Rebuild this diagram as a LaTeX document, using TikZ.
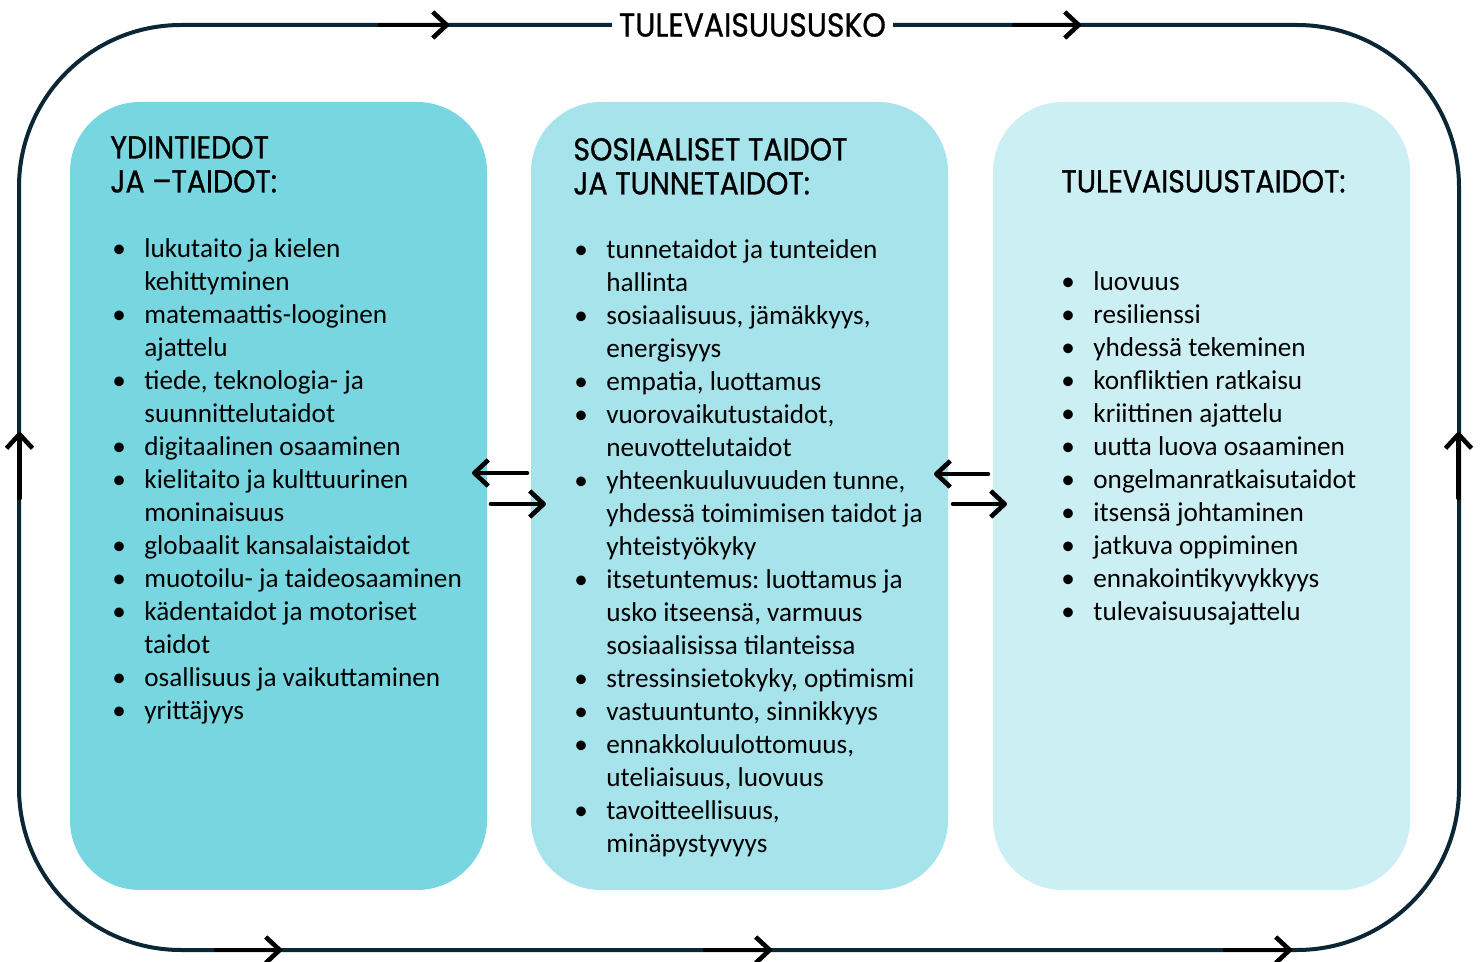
\documentclass[tikz,border=0pt]{standalone}
\usepackage{fontspec}
\setmainfont{Carlito}
\newfontfamily\headfont[FakeStretch=0.9,FakeBold=0.9]{Poppins}
\usetikzlibrary{arrows.meta}
\definecolor{boxA}{HTML}{78D6E0}
\definecolor{boxB}{HTML}{A6E3EB}
\definecolor{boxC}{HTML}{CCEFF4}
\definecolor{framecol}{HTML}{0B2635}
\newcommand\bul{\makebox[16pt][l]{\textbullet}}
\newcommand\ind{\hspace*{16pt}}
\frenchspacing
\begin{document}
\frenchspacing
\begin{tikzpicture}[x=0.5pt,y=-0.5pt,
  panel/.style={rounded corners=35pt, draw=none, inner sep=0pt, minimum width=208.5pt, minimum height=394pt},
  head/.style={anchor=north west, inner sep=0pt, align=left, font=\headfont\fontsize{15.8}{17}\selectfont},
  list/.style={anchor=north west, inner sep=0pt, align=left, font=\fontsize{13.6}{16.5}\selectfont},
  arr/.style={line width=2.3pt, line cap=round, -{Straight Barb[length=7pt,width=13pt,line join=round]}},
  titlenode/.style={fill=white, inner xsep=3.5pt, inner ysep=2pt, font=\headfont\fontsize{16.6}{18}\selectfont}
]
\useasboundingbox (0,0) rectangle (1480,962);
% outer frame
\draw[framecol, line width=2pt, rounded corners=81pt] (19,25) rectangle (1459,950);
\node[titlenode] (title) at (752.5,25) {TULEVAISUUSUSKO};
% frame arrows
\coordinate (ta1) at (380,25); \coordinate (ta2) at (449,25);
\coordinate (tb1) at (1014,25); \coordinate (tb2) at (1081,25);
\coordinate (ba1) at (216,950); \coordinate (ba2) at (282,950);
\coordinate (bb1) at (705,950); \coordinate (bb2) at (772,950);
\coordinate (bc1) at (1225,950); \coordinate (bc2) at (1292,950);
\coordinate (la1) at (19.5,498); \coordinate (la2) at (19.5,432);
\coordinate (ra1) at (1458.5,498); \coordinate (ra2) at (1458.5,432);
\foreach \a/\b in {ta1/ta2,tb1/tb2,ba1/ba2,bb1/bb2,bc1/bc2,la1/la2,ra1/ra2}
  \draw[arr] (\a) -- (\b);
% panels
\node[panel, fill=boxA] (p1) at (278.5,496) {};
\node[panel, fill=boxB] (p2) at (739.5,496) {};
\node[panel, fill=boxC] (p3) at (1201.5,496) {};
% arrows between panels
\coordinate (a1s) at (527,473); \coordinate (a1e) at (472,473);
\coordinate (a2s) at (491,504); \coordinate (a2e) at (546,504);
\coordinate (a3s) at (988,474); \coordinate (a3e) at (934,474);
\coordinate (a4s) at (953,504); \coordinate (a4e) at (1007,504);
\draw[arr] (a1s) -- (a1e);
\draw[arr] (a2s) -- (a2e);
\draw[arr] (a3s) -- (a3e);
\draw[arr] (a4s) -- (a4e);
% headings
\node[head] (h1) at (110,134.2) {\strut YDINTIEDOT\\JA –TAIDOT:};
\node[head] (h2) at (573,136.2) {\strut SOSIAALISET TAIDOT\\JA TUNNETAIDOT:};
\node[head] (h3) at (1061,168.2) {\strut TULEVAISUUSTAIDOT:};
% lists
\node[list] (l1) at (112,233.9) {\strut\bul lukutaito ja kielen\\
\ind kehittyminen\\
\bul matemaattis-looginen\\
\ind ajattelu\\
\bul tiede, teknologia- ja\\
\ind suunnittelutaidot\\
\bul digitaalinen osaaminen\\
\bul kielitaito ja kulttuurinen\\
\ind moninaisuus\\
\bul globaalit kansalaistaidot\\
\bul muotoilu- ja taideosaaminen\\
\bul kädentaidot ja motoriset\\
\ind taidot\\
\bul osallisuus ja vaikuttaminen\\
\bul yrittäjyys};
\node[list] (l2) at (574,234.9) {\strut\bul tunnetaidot ja tunteiden\\
\ind hallinta\\
\bul sosiaalisuus, jämäkkyys,\\
\ind energisyys\\
\bul empatia, luottamus\\
\bul vuorovaikutustaidot,\\
\ind neuvottelutaidot\\
\bul yhteenkuuluvuuden tunne,\\
\ind yhdessä toimimisen taidot ja\\
\ind yhteistyökyky\\
\bul itsetuntemus: luottamus ja\\
\ind usko itseensä, varmuus\\
\ind sosiaalisissa tilanteissa\\
\bul stressinsietokyky, optimismi\\
\bul vastuuntunto, sinnikkyys\\
\bul ennakkoluulottomuus,\\
\ind uteliaisuus, luovuus\\
\bul tavoitteellisuus,\\
\ind minäpystyvyys};
\node[list] (l3) at (1061,266.9) {\strut\bul luovuus\\
\bul resilienssi\\
\bul yhdessä tekeminen\\
\bul konfliktien ratkaisu\\
\bul kriittinen ajattelu\\
\bul uutta luova osaaminen\\
\bul ongelmanratkaisutaidot\\
\bul itsensä johtaminen\\
\bul jatkuva oppiminen\\
\bul ennakointikyvykkyys\\
\bul tulevaisuusajattelu};
\end{tikzpicture}
\end{document}
